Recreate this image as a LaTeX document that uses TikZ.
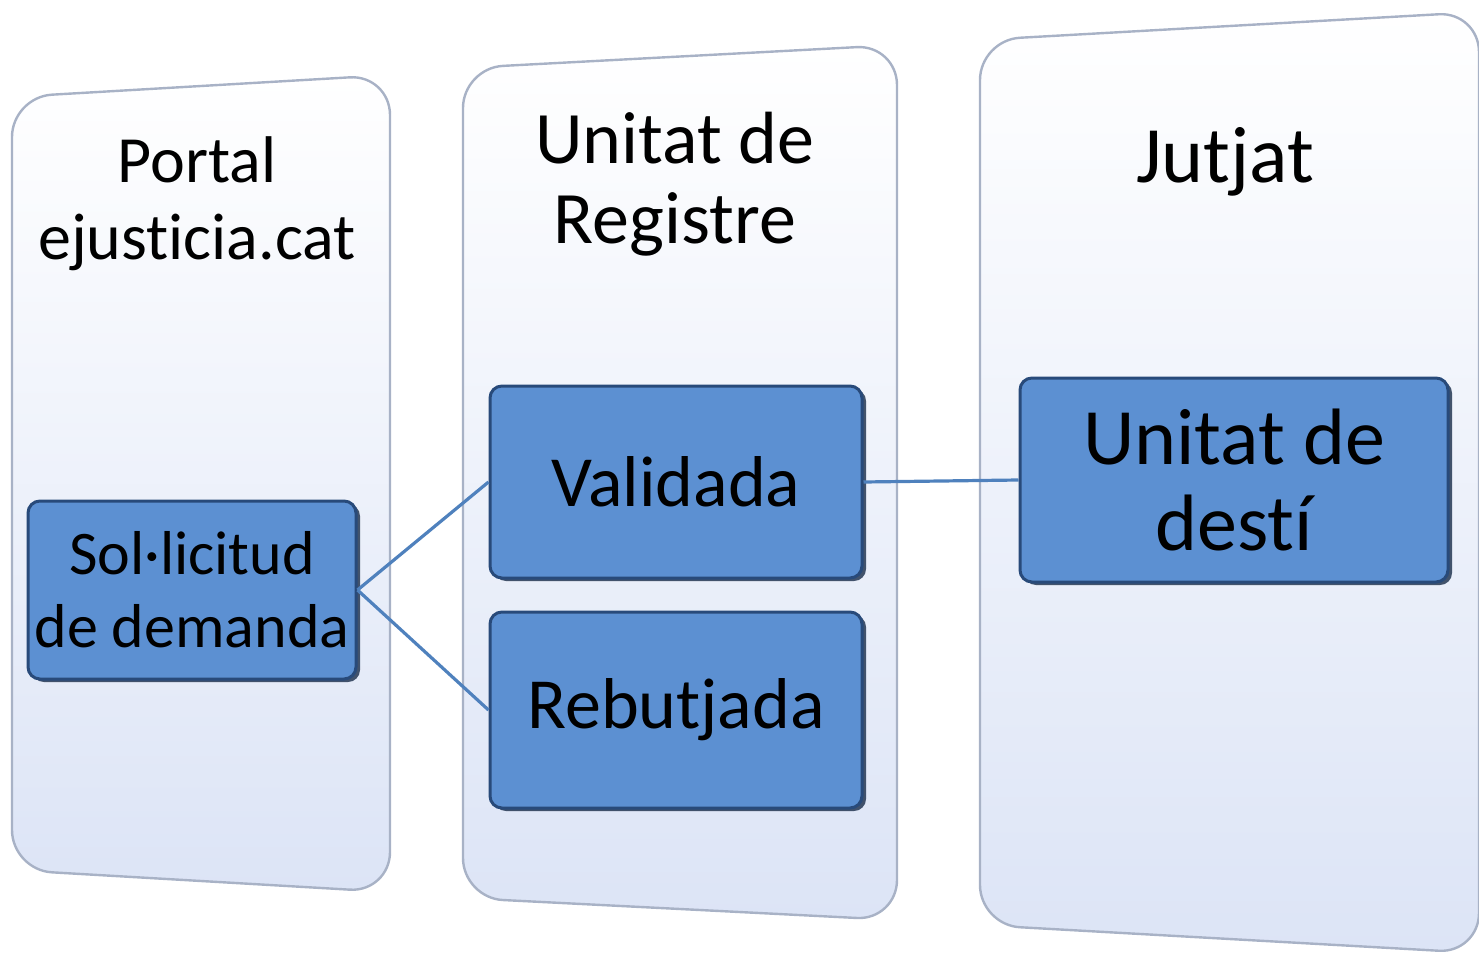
\documentclass[tikz,border=0pt]{standalone}
\usepackage{fontspec}
\setmainfont[Ligatures={NoCommon,NoRequired,NoContextual}]{Carlito}
\usetikzlibrary{shadows}

\definecolor{boxblue}{RGB}{92,144,210}
\definecolor{boxedge}{RGB}{40,74,122}
\definecolor{linkblue}{RGB}{79,129,189}
\definecolor{panelbot}{RGB}{220,228,246}
\definecolor{paneledge}{RGB}{168,178,198}

\tikzset{
  panel/.style={rounded corners=20pt, top color=white, bottom color=panelbot, draw=paneledge, line width=1.2pt},
  title/.style={align=center, font=\fontsize{33}{38.5}\selectfont},
  stage/.style={draw=boxedge, line width=1.5pt, fill=boxblue, rounded corners=6pt, align=center, inner sep=0pt,
    drop shadow={shadow xshift=2pt, shadow yshift=-1.5pt, opacity=0.8, fill=boxedge!60!black}},
  link/.style={draw=linkblue, line width=1.6pt}
}

\begin{document}
\begin{tikzpicture}[x=0.5pt, y=-0.5pt]
\useasboundingbox (0,0) rectangle (1479,953);

% Panels (slightly tilted)
\path[panel] (12,97) -- (390,75) -- (390,892) -- (12,870) -- cycle;  % Portal
\path[panel] (463,68) -- (897,45) -- (897,920) -- (463,898) -- cycle;  % Registre
\path[panel] (980,40) -- (1479,12) -- (1479,953) -- (980,925) -- cycle;  % Jutjat

% Panel titles
\node[title] (portal) at (197,204) {Portal\\ejusticia.cat};
\node[title, font=\fontsize{37}{40}\selectfont] (registre) at (675,184) {Unitat de\\Registre};
\node[title, font=\fontsize{40}{44}\selectfont] (jutjat) at (1225,162) {Jutjat};

% Steps
\node[stage, minimum width=164pt, minimum height=89pt, font=\fontsize{31}{36.5}\selectfont] (sollicitud) at (192,590) {Sol·licitud\\de demanda};
\node[stage, minimum width=186pt, minimum height=96pt, font=\fontsize{36}{42}\selectfont] (validada) at (676,482) {Validada};
\node[stage, minimum width=186pt, minimum height=98pt, font=\fontsize{36}{42}\selectfont] (rebutjada) at (676,710) {Rebutjada};
\node[stage, minimum width=214pt, minimum height=102pt, font=\fontsize{40}{43}\selectfont] (desti) at (1234,480) {Unitat de\\destí};

% Links
\draw[link] (sollicitud.east) -- (validada.west);
\draw[link] (sollicitud.east) -- (rebutjada.west);
\draw[link] (validada.east) -- (desti.west);

\end{tikzpicture}
\end{document}
